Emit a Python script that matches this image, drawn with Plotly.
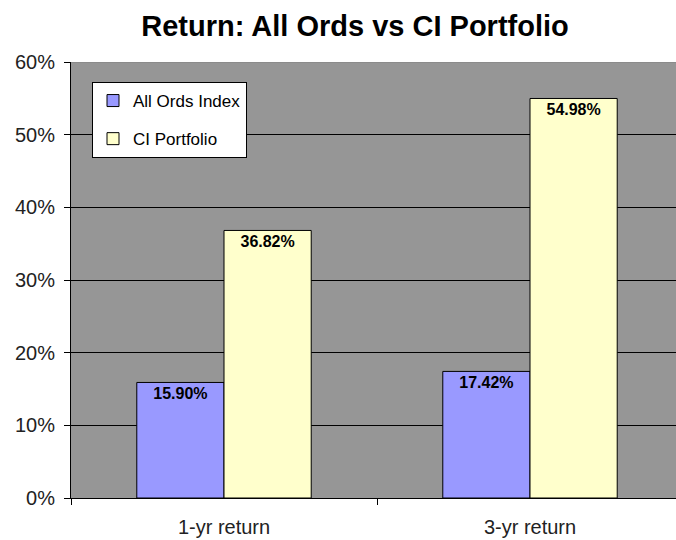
import plotly.graph_objects as go

categories = ["1-yr return", "3-yr return"]
all_ords = [15.90, 17.42]
ci_portfolio = [36.82, 54.98]
series_names = ["All Ords Index", "CI Portfolio"]
y_ticks = [0, 10, 20, 30, 40, 50, 60]
y_tick_labels = ["0%", "10%", "20%", "30%", "40%", "50%", "60%"]
title_text = "Return: All Ords vs CI Portfolio"

W, H = 676, 540
ML, MR, MT, MB = 71, 0, 62, 42

fig = go.Figure()
for name, vals, color, grp in [
    (series_names[0], all_ords, "#9999FF", "a"),
    (series_names[1], ci_portfolio, "#FFFFCC", "b"),
]:
    fig.add_trace(go.Bar(
        x=categories, y=vals, name=name, legendgroup=grp,
        marker=dict(color=color, line=dict(color="#000000", width=1)),
        text=[f"{v:.2f}%" for v in vals],
        textposition="inside", insidetextanchor="end",
        textfont=dict(family="Liberation Sans, Arial, sans-serif", size=16, color="#000000", weight="bold"),
        textangle=0,
        cliponaxis=False,
        hoverinfo="skip",
    ))

# category width = 306px; plot width 605px
xr_end = -0.5 + (W - ML - MR) / 306.0

fig.update_layout(
    width=W, height=H,
    margin=dict(l=ML, r=MR, t=MT, b=MB),
    paper_bgcolor="#FFFFFF",
    plot_bgcolor="#969696",
    barmode="group", bargap=0.43, bargroupgap=0,
    font=dict(family="Liberation Sans, Arial, sans-serif", color="#222222"),
    title=dict(
        text=title_text, xref="container", x=355 / W, xanchor="center",
        yref="container", y=1 - 26 / H, yanchor="middle",
        font=dict(family="Liberation Sans, Arial, sans-serif", size=29, color="#000000", weight="bold"),
    ),
    legend=dict(
        x=(92 - ML) / (W - ML - MR), y=(498 - 82) / (H - MT - MB),
        xanchor="left", yanchor="top",
        bgcolor="#FFFFFF", bordercolor="#000000", borderwidth=1,
        font=dict(family="Liberation Sans, Arial, sans-serif", size=17, color="#000000"),
        traceorder="grouped", tracegroupgap=13,
        itemwidth=30,
    ),
    xaxis=dict(
        type="category", range=[-0.5, xr_end],
        tickson="boundaries", ticks="outside", ticklen=6, tickcolor="#000000",
        showline=True, linecolor="#000000", linewidth=1,
        showgrid=False, zeroline=False,
        tickfont=dict(size=20, color="#222222"),
        ticklabelstandoff=11,
    ),
    yaxis=dict(
        range=[0, 60], tickvals=y_ticks, ticktext=y_tick_labels,
        ticks="outside", ticklen=6, tickcolor="#000000",
        showline=True, linecolor="#000000", linewidth=1,
        showgrid=True, gridcolor="#000000", gridwidth=1,
        zeroline=False,
        tickfont=dict(size=20, color="#222222"),
        ticklabelstandoff=5,
    ),
    shapes=[dict(type="line", xref="paper", yref="y", x0=0, x1=1, y0=60, y1=60,
                 line=dict(color="#808080", width=1), layer="above")],
)

fig.write_html("out.html", config={"displayModeBar": False},
               post_script="document.body.style.margin='0px';")
